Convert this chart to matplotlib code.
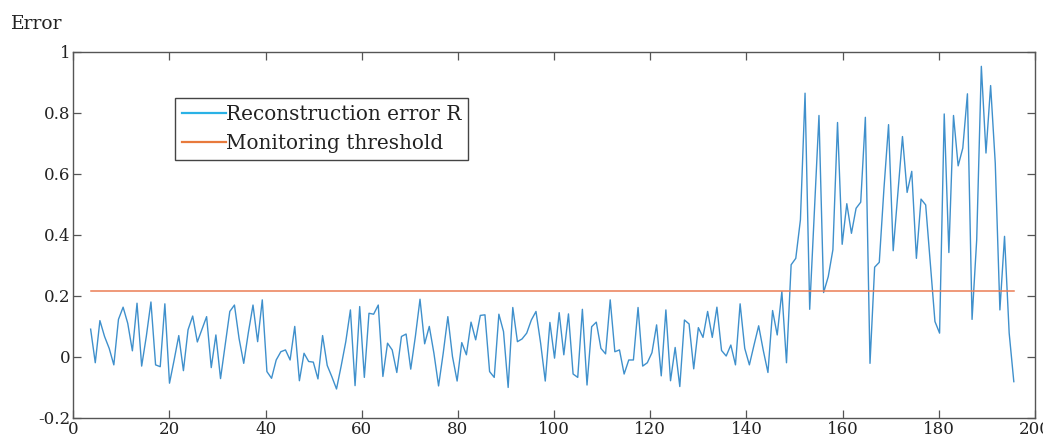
import numpy as np
import matplotlib
matplotlib.use('Agg')
import matplotlib.pyplot as plt
from matplotlib.lines import Line2D

# values, one per sample
recon_error = [
    0.091, -0.019, 0.119, 0.067, 0.028, -0.026, 0.123, 0.163, 0.11, 0.02,
    0.176, -0.03, 0.067, 0.18, -0.026, -0.032, 0.174, -0.086, -0.01, 0.07,
    -0.045, 0.089, 0.134, 0.049, 0.09, 0.132, -0.035, 0.072, -0.071, 0.04,
    0.149, 0.17, 0.06, -0.021, 0.08, 0.17, 0.05, 0.187, -0.048, -0.07,
    -0.01, 0.017, 0.023, -0.01, 0.1, -0.078, 0.012, -0.015, -0.017, -0.072,
    0.07, -0.028, -0.065, -0.105, -0.03, 0.05, 0.154, -0.094, 0.165, -0.067,
    0.143, 0.14, 0.17, -0.064, 0.045, 0.023, -0.051, 0.067, 0.075, -0.04,
    0.067, 0.189, 0.043, 0.1, 0.012, -0.095, 0.012, 0.132, 0.001, -0.079,
    0.047, 0.007, 0.114, 0.056, 0.136, 0.138, -0.048, -0.067, 0.14, 0.083,
    -0.1, 0.162, 0.05, 0.059, 0.078, 0.121, 0.149, 0.045, -0.079, 0.113,
    -0.004, 0.145, 0.007, 0.141, -0.056, -0.067, 0.156, -0.092, 0.099, 0.114,
    0.028, 0.01, 0.187, 0.017, 0.023, -0.056, -0.01, -0.01, 0.162, -0.03,
    -0.019, 0.014, 0.105, -0.062, 0.154, -0.078, 0.031, -0.097, 0.121, 0.108,
    -0.039, 0.096, 0.064, 0.149, 0.064, 0.163, 0.021, 0.003, 0.039, -0.026,
    0.174, 0.028, -0.026, 0.039, 0.102, 0.021, -0.051, 0.152, 0.072, 0.214,
    -0.019, 0.302, 0.323, 0.449, 0.864, 0.156, 0.47, 0.791, 0.211, 0.263,
    0.351, 0.768, 0.369, 0.502, 0.405, 0.487, 0.507, 0.785, -0.021, 0.294,
    0.31, 0.55, 0.761, 0.348, 0.537, 0.722, 0.539, 0.608, 0.323, 0.517,
    0.498, 0.307, 0.116, 0.078, 0.796, 0.342, 0.791, 0.626, 0.684, 0.862,
    0.123, 0.384, 0.952, 0.668, 0.889, 0.635, 0.154, 0.395, 0.078, -0.081,
]
x_first, x_last = 3.6, 195.6
threshold = 0.216

series_labels = ['Reconstruction error R', 'Monitoring threshold']
x_ticks = [0, 20, 40, 60, 80, 100, 120, 140, 160, 180, 200]
y_ticks = [-0.2, 0, 0.2, 0.4, 0.6, 0.8, 1]
y_tick_labels = ['-0.2', '0', '0.2', '0.4', '0.6', '0.8', '1']

LINE_BLUE = '#3f90cc'
LEGEND_BLUE = '#2ab2e6'
LINE_ORANGE = '#eb7d55'
LEGEND_ORANGE = '#e87a3c'
FRAME = '#555555'

plt.rcParams['font.family'] = ['DejaVu Serif']

fig = plt.figure(figsize=(10.43, 4.41), dpi=100)
ax = fig.add_axes([0.0703, 0.0522, 0.9220, 0.8306])

sample_x = np.linspace(x_first, x_last, len(recon_error))
ax.plot(sample_x, recon_error, color=LINE_BLUE, linewidth=1.0)
ax.plot([x_first, x_last], [threshold, threshold], color=LINE_ORANGE, linewidth=1.1)

ax.set_xlim(0, 200)
ax.set_ylim(-0.2, 1)
ax.set_xticks(x_ticks)
ax.set_yticks(y_ticks)
ax.set_yticklabels(y_tick_labels)
ax.tick_params(direction='in', top=True, right=True, length=6, width=0.9,
               color=FRAME, labelsize=12, labelcolor='#222222', pad=2)
for spine in ax.spines.values():
    spine.set_color(FRAME)
    spine.set_linewidth(1.0)

fig.text(0.011, 0.935, 'Error', fontsize=13.5, color='#222222')

handles = [Line2D([], [], color=LEGEND_BLUE, linewidth=1.6),
           Line2D([], [], color=LEGEND_ORANGE, linewidth=1.6)]
leg = ax.legend(handles, series_labels, loc='upper left',
                bbox_to_anchor=(0.1057, 0.874), borderaxespad=0,
                fontsize=14.4, handlelength=2.2, handletextpad=0.0,
                labelspacing=0.5, borderpad=0.35, fancybox=False,
                framealpha=1, edgecolor='#444444')
leg.get_frame().set_linewidth(1.0)
for t in leg.get_texts():
    t.set_color('#222222')

fig.savefig('out.png', dpi=100)
